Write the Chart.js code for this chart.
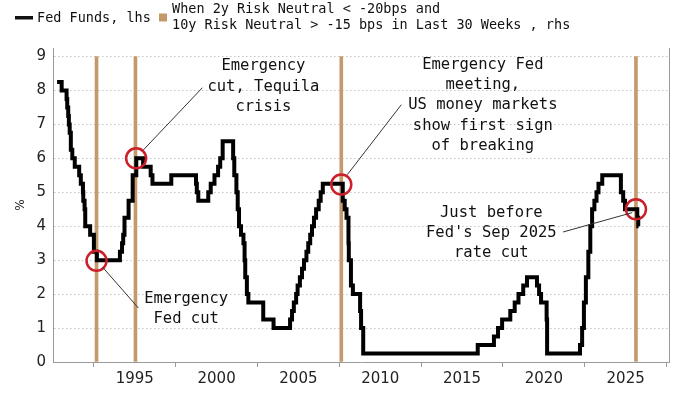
<!DOCTYPE html>
<html>
<head>
<meta charset="utf-8">
<script src="https://cdn.jsdelivr.net/npm/chart.js@4.4.1/dist/chart.umd.min.js"></script>
<style>
  body { margin: 0; background: #fff; }
</style>
</head>
<body>
<canvas id="fedChart" width="700" height="394"></canvas>
<script>
// Fed funds target (upper bound): each point is a change date (decimal year) and the new rate
const fedDates = [
  1990.25, 1990.53, 1990.83, 1990.87, 1990.93, 1990.97, 1991.02, 1991.09, 1991.18, 1991.33,
  1991.60, 1991.70, 1991.83, 1991.85, 1991.93, 1991.97, 1992.27, 1992.50, 1992.68,
  1994.09, 1994.22, 1994.29, 1994.37, 1994.62, 1994.87, 1995.09, 1995.51, 1995.97, 1996.08,
  1997.23, 1998.74, 1998.79, 1998.88, 1999.49, 1999.64, 1999.87, 2000.09, 2000.22, 2000.37,
  2001.01, 2001.08, 2001.21, 2001.29, 2001.37, 2001.49, 2001.64, 2001.71, 2001.75, 2001.85, 2001.94,
  2002.85, 2003.48, 2004.49, 2004.61, 2004.72, 2004.86, 2004.95, 2005.09, 2005.22, 2005.34,
  2005.49, 2005.60, 2005.72, 2005.83, 2005.95, 2006.08, 2006.24, 2006.36, 2006.49,
  2007.71, 2007.83, 2007.94, 2008.06, 2008.08, 2008.21, 2008.33, 2008.77, 2008.83, 2008.96,
  2015.96, 2016.95, 2017.20, 2017.45, 2017.95, 2018.22, 2018.45, 2018.74, 2018.97,
  2019.58, 2019.71, 2019.83, 2020.17, 2020.20,
  2022.21, 2022.34, 2022.45, 2022.57, 2022.72, 2022.84, 2022.95, 2023.09, 2023.22, 2023.34, 2023.57,
  2024.71, 2024.85, 2024.96, 2025.71, 2025.77, 2025.79
];
const fedRates = [
  8.25, 8.00, 7.75, 7.50, 7.25, 7.00, 6.75, 6.25, 6.00, 5.75,
  5.50, 5.25, 5.00, 4.75, 4.50, 4.00, 3.75, 3.25, 3.00,
  3.25, 3.50, 3.75, 4.25, 4.75, 5.50, 6.00, 5.75, 5.50, 5.25,
  5.50, 5.25, 5.00, 4.75, 5.00, 5.25, 5.50, 5.75, 6.00, 6.50,
  6.00, 5.50, 5.00, 4.50, 4.00, 3.75, 3.50, 3.00, 2.50, 2.00, 1.75,
  1.25, 1.00, 1.25, 1.50, 1.75, 2.00, 2.25, 2.50, 2.75, 3.00,
  3.25, 3.50, 3.75, 4.00, 4.25, 4.50, 4.75, 5.00, 5.25,
  4.75, 4.50, 4.25, 3.50, 3.00, 2.25, 2.00, 1.50, 1.00, 0.25,
  0.50, 0.75, 1.00, 1.25, 1.50, 1.75, 2.00, 2.25, 2.50,
  2.25, 2.00, 1.75, 1.25, 0.25,
  0.50, 1.00, 1.75, 2.50, 3.25, 4.00, 4.50, 4.75, 5.00, 5.25, 5.50,
  5.00, 4.75, 4.50, 4.25, 4.00, 4.00
];

// weeks where the risk-neutral condition fired (rhs indicator)
const signalDates = [1992.66, 1995.04, 2007.62, 2025.63];
const signalValues = [1, 1, 1, 1];

// highlighted points on the Fed funds line
const circleDates = [1992.66, 1995.08, 2007.62, 2025.63];
const circleRates = [2.98, 6.0, 5.23, 4.5];

const xTicks = [1995, 2000, 2005, 2010, 2015, 2020, 2025];
const yTicks = [0, 1, 2, 3, 4, 5, 6, 7, 8, 9];

const BROWN = "#c49a6c";
const RED = "#cc1f2a";
const AXIS = "#9a9a9a";
const MONO = "'DejaVu Sans Mono', 'Liberation Mono', monospace";
const SANS = "'DejaVu Sans', Verdana, sans-serif";

// callouts, in data units
const notes = [
  { x: 2002.86, y: 8.71, lines: ["Emergency", "cut, Tequila", "crisis"], from: [1995.53, 6.25], to: [1999.13, 8.08] },
  { x: 1998.14, y: 1.86, lines: ["Emergency", "Fed cut"], from: [1993.02, 2.80], to: [1995.22, 1.59] },
  { x: 2016.27, y: 8.76, lines: ["Emergency Fed", "meeting,", "US money markets", "show first sign", "of breaking"], from: [2007.99, 5.52], to: [2011.29, 7.58] },
  { x: 2016.79, y: 4.40, lines: ["Just before", "Fed's Sep 2025", "rate cut"], from: [2025.40, 4.40], to: [2021.18, 3.83] },
];

const extras = {
  id: "extras",
  afterDatasetsDraw(chart) {
    const { ctx, chartArea, scales } = chart;
    const sx = scales.x, sy = scales.y;
    ctx.save();

    // right border of the plot
    ctx.strokeStyle = AXIS;
    ctx.lineWidth = 1;
    ctx.beginPath();
    ctx.moveTo(chartArea.right + 0.5, chartArea.top);
    ctx.lineTo(chartArea.right + 0.5, chartArea.bottom);
    ctx.stroke();

    // callouts
    ctx.font = "15.5px " + MONO;
    ctx.textAlign = "center";
    ctx.textBaseline = "middle";
    notes.forEach(n => {
      ctx.strokeStyle = "#333";
      ctx.lineWidth = 1;
      ctx.beginPath();
      ctx.moveTo(sx.getPixelForValue(n.from[0]), sy.getPixelForValue(n.from[1]));
      ctx.lineTo(sx.getPixelForValue(n.to[0]), sy.getPixelForValue(n.to[1]));
      ctx.stroke();
      ctx.fillStyle = "#111";
      const cx = sx.getPixelForValue(n.x);
      const cy = sy.getPixelForValue(n.y);
      n.lines.forEach((t, i) => ctx.fillText(t, cx, cy + i * 20.3));
    });

    // legend
    ctx.fillStyle = "#111";
    ctx.fillRect(15, 16, 18, 3.5);
    ctx.font = "13.5px " + MONO;
    ctx.textAlign = "left";
    ctx.fillText("Fed Funds, lhs", 37, 18);
    ctx.fillStyle = BROWN;
    ctx.fillRect(159, 13.5, 8, 8);
    ctx.fillStyle = "#111";
    ctx.fillText("When 2y Risk Neutral < -20bps and", 172, 9.5);
    ctx.fillText("10y Risk Neutral > -15 bps in Last 30 Weeks , rhs", 172, 25.5);
    ctx.restore();
  }
};

new Chart(document.getElementById("fedChart"), {
  type: "line",
  data: {
    datasets: [
      {
        label: "Fed Funds, lhs",
        data: fedDates.map((d, i) => ({ x: d, y: fedRates[i] })),
        stepped: true,
        borderColor: "#000",
        borderWidth: 4,
        pointRadius: 0,
        fill: false,
        yAxisID: "y",
        order: 1,
      },
      {
        type: "bar",
        label: "When 2y Risk Neutral < -20bps and 10y Risk Neutral > -15 bps in Last 30 Weeks , rhs",
        data: signalDates.map((d, i) => ({ x: d, y: signalValues[i] })),
        backgroundColor: BROWN,
        barThickness: 3,
        yAxisID: "y1",
        order: 2,
      },
      {
        label: "highlights",
        data: circleDates.map((d, i) => ({ x: d, y: circleRates[i] })),
        showLine: false,
        pointRadius: 10,
        pointBorderWidth: 2.5,
        pointBorderColor: RED,
        pointBackgroundColor: "rgba(0,0,0,0)",
        yAxisID: "y",
        order: 0,
      },
    ],
  },
  options: {
    responsive: false,
    animation: false,
    layout: { padding: { top: 48, right: 31, left: 0, bottom: 0 } },
    plugins: { legend: { display: false }, tooltip: { enabled: false } },
    scales: {
      x: {
        type: "linear",
        min: 1990,
        max: 2027.65,
        offset: false,
        afterBuildTicks: s => { s.ticks = xTicks.map(v => ({ value: v })); },
        afterFit: s => { s.height = 32; },
        grid: { drawOnChartArea: false, drawTicks: true, tickLength: 5, tickColor: AXIS },
        border: { color: AXIS },
        ticks: { font: { family: SANS, size: 15 }, color: "#222", padding: 3, maxRotation: 0, callback: v => String(v) },
      },
      y: {
        min: 0,
        max: 9.25,
        afterBuildTicks: s => { s.ticks = yTicks.map(v => ({ value: v })); },
        afterFit: s => { s.width = 53; },
        grid: { color: "#c4c4c4", lineWidth: 1, drawTicks: false },
        border: { color: AXIS, dash: [1.5, 2.5] },
        ticks: { font: { family: SANS, size: 15 }, color: "#222", padding: 7 },
        title: { display: true, text: "%", font: { family: SANS, size: 12 }, color: "#222", padding: { top: 14, bottom: 0 } },
      },
      y1: {
        position: "right",
        min: 0,
        max: 9.25 / 9,
        afterFit: s => { s.width = 0; },
        grid: { drawOnChartArea: false, drawTicks: false },
        border: { display: false },
        ticks: { display: false },
      },
    },
  },
  plugins: [extras],
});
</script>
</body>
</html>
